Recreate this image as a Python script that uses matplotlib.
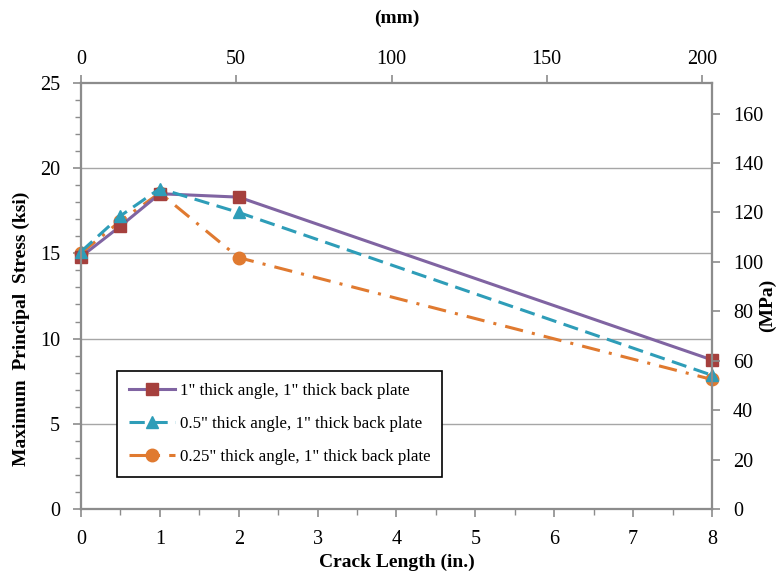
import matplotlib
matplotlib.use("Agg")
from matplotlib import pyplot as plt
from matplotlib.ticker import MultipleLocator
import numpy as np

plt.rcParams['font.family'] = ['Liberation Serif', 'DejaVu Serif']

crack_in = [0, 0.5, 1, 2, 8]
stress_1in = [14.8, 16.6, 18.5, 18.3, 8.75]
stress_05in = [15.1, 17.2, 18.8, 17.4, 7.85]
stress_025in = [15.0, 16.9, 18.55, 14.75, 7.6]

labels = ['1" thick angle, 1" thick back plate',
          '0.5" thick angle, 1" thick back plate',
          '0.25" thick angle, 1" thick back plate']

gray = '#8c8c8c'

fig = plt.figure(figsize=(7.84, 5.76), dpi=100)
ax = fig.add_axes([0.1033, 0.1163, 0.8048, 0.7397])

ax.plot(crack_in, stress_1in, color='#8064A2', lw=2.2, marker='s', ms=8,
        mfc='#A5403D', mec='#A5403D', label=labels[0], zorder=3, clip_on=False)
ax.plot(crack_in, stress_05in, color='#2E9DB8', lw=2.2, ls=(0, (5, 2.5)), marker='^', ms=9,
        mfc='#2E9DB8', mec='#2E9DB8', label=labels[1], zorder=4, clip_on=False)
ax.plot(crack_in, stress_025in, color='#E07A30', lw=2.2, ls=(0, (6, 3, 1, 3)), marker='o', ms=9,
        mfc='#E07A30', mec='#E07A30', label=labels[2], zorder=2, clip_on=False)

ax.set_xlim(0, 8)
ax.set_ylim(0, 25)
ax.xaxis.set_major_locator(MultipleLocator(1))
ax.xaxis.set_minor_locator(MultipleLocator(0.5))
ax.yaxis.set_major_locator(MultipleLocator(5))
ax.yaxis.set_minor_locator(MultipleLocator(1))
for y in [5, 10, 15, 20]:
    ax.axhline(y, color='#a6a6a6', lw=1.0, zorder=0)

ax.set_xlabel('Crack Length (in.)', fontsize=14, fontweight='bold')
ax.xaxis.set_label_coords(0.5, -0.105)
ax.set_ylabel('Maximum  Principal  Stress (ksi)', fontsize=14, fontweight='bold')
ax.yaxis.set_label_coords(-0.081, 0.4225)

ax2 = ax.twinx()
ax2.set_ylim(0, 25 * 6.895)
ax2.yaxis.set_major_locator(MultipleLocator(20))
ax2.set_ylabel('(MPa)', fontsize=14, fontweight='bold', rotation=90)
ax2.yaxis.set_label_coords(1.0745, 0.479)

ax3 = ax.twiny()
ax3.set_xlim(0, 8 * 25.4)
ax3.xaxis.set_major_locator(MultipleLocator(50))
ax3.set_xlabel('(mm)', fontsize=14, fontweight='bold')
ax3.xaxis.set_label_coords(0.5, 1.141)

for a in [ax, ax2, ax3]:
    for s in a.spines.values():
        s.set_color(gray)
        s.set_linewidth(1.5)
    a.tick_params(which='both', color=gray, labelsize=14.5, direction='out', pad=9)
    a.tick_params(which='major', length=6, width=1.2)
    a.tick_params(which='minor', length=4, width=1.0)
ax3.tick_params(pad=4)

leg = ax.legend(loc='lower left', bbox_to_anchor=(0.057, 0.075), borderaxespad=0,
                fontsize=12.2, handlelength=2.7, labelspacing=1.0, borderpad=0.7,
                handletextpad=0.3, fancybox=False, framealpha=1, edgecolor='black')
leg.get_frame().set_linewidth(1.2)

plt.savefig('out.png', dpi=100)
